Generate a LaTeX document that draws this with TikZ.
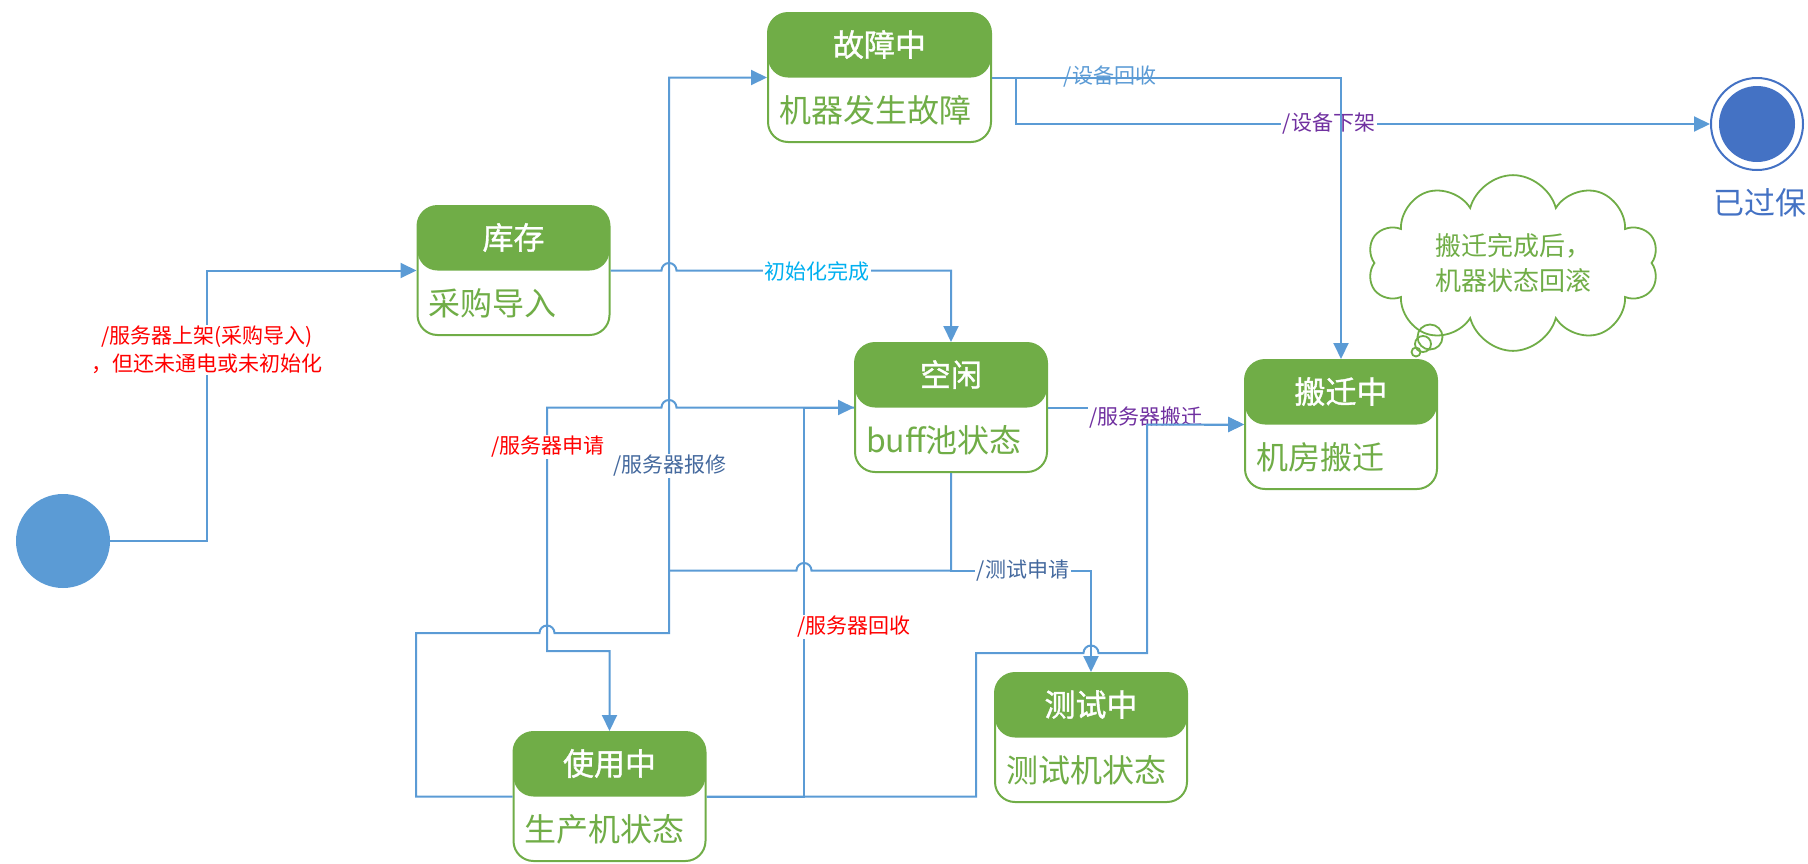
\documentclass[tikz,border=0pt]{standalone}
\usepackage{fontspec}
\setmainfont{Noto Sans CJK SC}
\newfontfamily\hdfont[FakeBold=1.2]{Noto Sans CJK SC}
\usepackage{tikz}
\usetikzlibrary{arrows.meta,shapes.symbols}

\definecolor{stgreen}{HTML}{70AD47}
\definecolor{lnblue}{HTML}{5B9BD5}
\definecolor{endblue}{HTML}{4472C4}
\definecolor{lbred}{HTML}{FF0000}
\definecolor{lbcyan}{HTML}{00B0F0}
\definecolor{lbpurple}{HTML}{7030A0}
\definecolor{lbgrey}{HTML}{44699E}

\tikzset{
	state/.style={draw=stgreen, line width=2pt, rounded corners=20pt, fill=white, minimum width=192pt, minimum height=129pt, inner sep=0pt,
		path picture={\fill[stgreen] (path picture bounding box.north west) rectangle (path picture bounding box.east);}},
	hd/.style={text=white, inner sep=0pt, font=\fontsize{31}{31}\hdfont},
	bd/.style={text=stgreen, anchor=west, inner sep=0pt, font=\fontsize{32}{32}\selectfont},
	conn/.style={draw=lnblue, line width=2pt},
	arr/.style={conn, -{Triangle[length=16pt,width=15pt]}},
	lbl/.style={fill=white, inner sep=1.5pt, font=\fontsize{21}{28}\selectfont},
	bubble/.style={draw=stgreen, line width=1.8pt}
}
\def\statebox[#1](#2)(#3)#4#5{
	\node[state,#1] (#2) at (#3) {};
	\node[hd] at ([yshift=33pt]#2.center) {#4};
	\node[bd] at ([xshift=12pt,yshift=-33pt]#2.west) {#5};
}

\begin{document}
\begin{tikzpicture}[x=1pt,y=-1pt]
			%%%%% START %%%%%
			\useasboundingbox (0,0) rectangle (1808,863);
			
			\node[circle, fill=lnblue, minimum size=94pt, inner sep=0pt] (init) at (63,541) {};
			\node[circle, draw=endblue, line width=2pt, minimum size=92pt, inner sep=0pt] (gb) at (1757,124) {};
			\fill[endblue] (gb.center) circle (38pt);
			\node[text=endblue, font=\fontsize{31}{31}\selectfont] (gbtext) at (1760,203) {已过保};
			
			\statebox[](ku)(513.5,270.5){库存}{采购导入}
			\statebox[minimum width=223pt](gz)(879.5,77.5){故障中}{机器发生故障}
			\statebox[](kx)(951,407.5){空闲}{buff池状态}
			\statebox[](bq)(1341,424.5){搬迁中}{机房搬迁}
			\statebox[](cs)(1091,737.5){测试中}{测试机状态}
			\statebox[](sy)(609.5,796.5){使用中}{生产机状态}
			
			\draw[arr] (init.east) -- (207,541) |- (ku.west);
			\node[lbl, text=lbred, align=center] (l1) at (207,350) {/服务器上架(采购导入)\\，但还未通电或未初始化};
			
			\draw[arr] (ku.east) -- (661.5,270.5) arc[start angle=180, end angle=0, radius=7.5pt] -| (kx.north);
			\node[lbl, text=lbcyan] (l2) at (817,271) {初始化完成};
			
			\draw[arr] (gz.east) -- (1016,77.5) |- (gb.west);
			\node[lbl, text=lbpurple] (l4) at (1329,124) {/设备下架};
			\draw[arr] (gz.east) -| (bq.north);
			\node[lbl, fill=none, text=lnblue] (l3) at (1110,77) {/设备回收};
			
			\draw[arr] (kx.south) -- (951,570.5) -| (cs.north);
			\node[lbl, text=lbgrey] (l6) at (1023,570.5) {/测试申请};
			
			\draw[conn] (kx.south) -- (951,570.5) -- (811.5,570.5) arc[start angle=0, end angle=180, radius=7.5pt] -- (669,570.5);
			\draw[arr] (sy.west) -- (416,796.5) |- (539.5,633) arc[start angle=180, end angle=0, radius=7.5pt] -- (669,633) |- (gz.west);
			\node[lbl, text=lbgrey] (l8) at (670,466) {/服务器报修};
			
			\draw[arr] (kx.west) -- (676.5,407.5) arc[start angle=0, end angle=180, radius=7.5pt] -- (547,407.5) |- (609.5,651) -- (sy.north);
			\node[lbl, text=lbred] (l7) at (548,447) {/服务器申请};
			
			\draw[arr] (sy.east) -- (804,796.5) |- (kx.west);
			\node[lbl, text=lbred] (l9) at (854,627) {/服务器回收};
			
			\draw[arr] (kx.east) -- (1147,407.5) |- (bq.west);
			\node[lbl, text=lbpurple] (l5) at (1146,417) {/服务器搬迁};
			\draw[arr] (sy.east) -- (976,796.5) |- (1083.5,653) arc[start angle=180, end angle=0, radius=7.5pt] -- (1147,653) |- (bq.west);
			
			\node[cloud, draw=stgreen, fill=white, line width=1.8pt, cloud puffs=10, aspect=1.7, minimum width=291pt, minimum height=174pt, inner sep=0pt,
				text=stgreen, align=left, font=\fontsize{26}{35}\selectfont] (note) at (1513,263) {搬迁完成后，\\机器状态回滚};
			\draw[bubble] (1430,337) circle (12.5pt);
			\draw[bubble] (1423,344) circle (8pt);
			\draw[bubble] (1416,352) circle (4.5pt);
			
			%%%%% END %%%%%
\end{tikzpicture}
\end{document}
